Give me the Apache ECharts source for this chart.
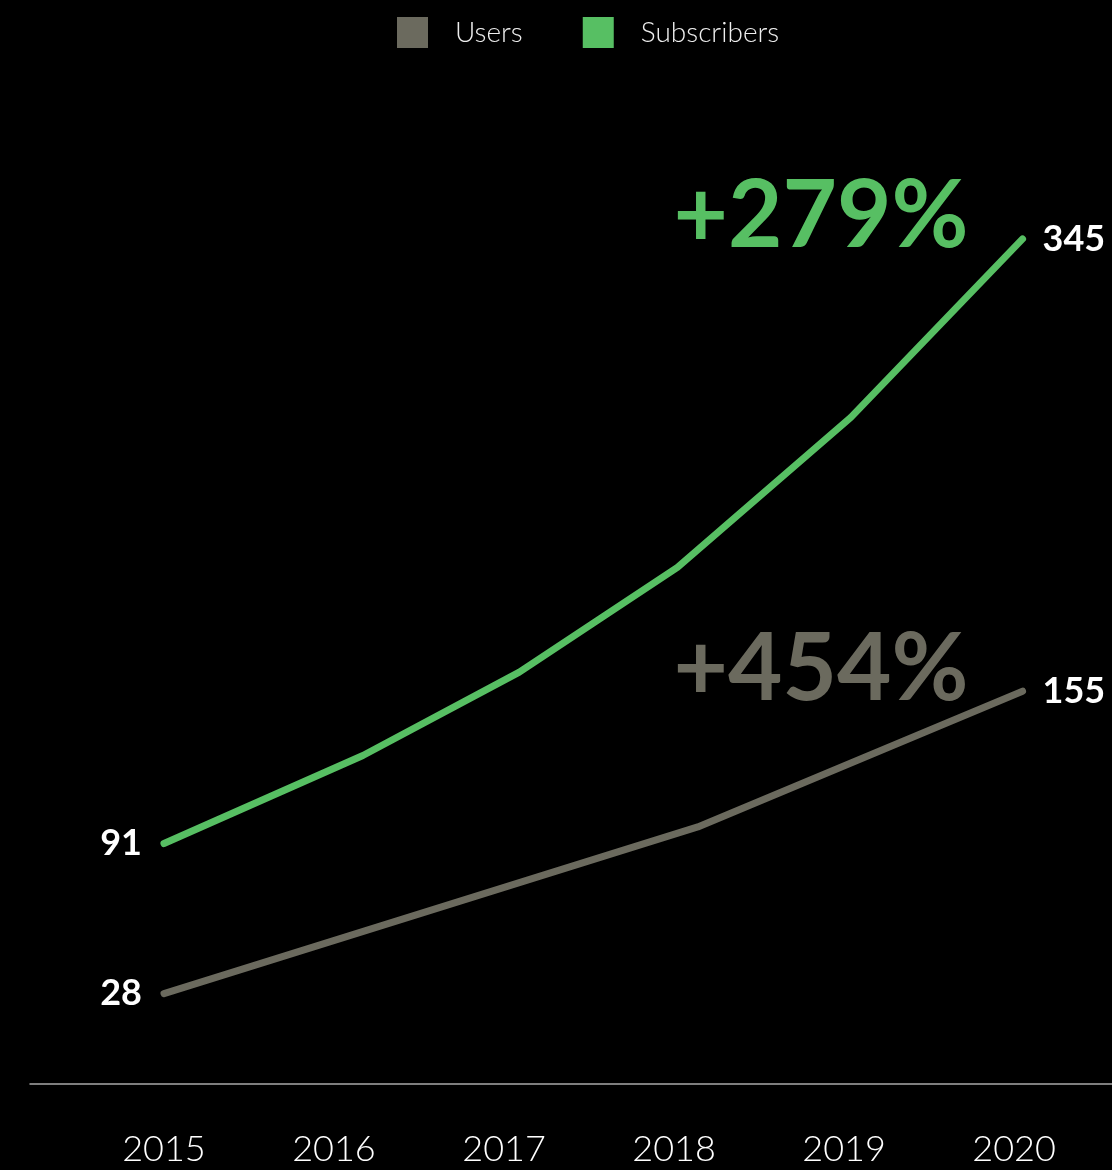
<!DOCTYPE html>
<html>
<head>
<meta charset="utf-8">
<script src="https://cdn.jsdelivr.net/npm/echarts@6/dist/echarts.min.js"></script>
<style>
html,body{margin:0;padding:0;background:#000;}
#chart{width:1112px;height:1170px;}
</style>
</head>
<body>
<div id="chart"></div>
<script>
const yearTicks = [2015, 2016, 2017, 2018, 2019, 2020];
const seriesNames = ['Users', 'Subscribers'];
const usersX = [2015, 2018.14, 2020.05];
const usersVals = [28, 98, 155];
const subsX = [2015, 2016.17, 2017.09, 2018.02, 2019.04, 2020.05];
const subsVals = [91, 128, 163, 207, 270, 345];

const GREEN = '#57bf63';
const GRAY = '#6b6a5e';
const FONT = 'Lato, "Noto Sans", sans-serif';

function pairs(xs, vs) { return xs.map((x, i) => [x, vs[i]]); }
function pct(vs) { return '+' + Math.round((vs[vs.length - 1] / vs[0] - 1) * 100) + '%'; }

function marks(xs, vs, color) {
  const n = xs.length - 1;
  const base = { color: '#fff', fontFamily: FONT, fontWeight: 700, fontSize: 36, show: true };
  return {
    symbol: 'circle', symbolSize: 0, silent: true,
    data: [
      { coord: [xs[0], vs[0]], value: vs[0], label: Object.assign({}, base, { position: 'left', distance: 22 }) },
      { coord: [xs[n], vs[n]], value: vs[n], label: Object.assign({}, base, { position: 'right', distance: 20 }) },
      { coord: [xs[n], vs[n]], value: vs[n], label: Object.assign({}, base, {
          position: 'left', distance: 54, offset: [0, -22], fontSize: 94, color: color,
          formatter: pct(vs) }) }
    ]
  };
}

const chart = echarts.init(document.getElementById('chart'));
chart.setOption({
  animation: false,
  backgroundColor: '#000',
  legend: {
    data: seriesNames,
    top: 17, left: 397, padding: 0,
    icon: 'rect', itemWidth: 31, itemHeight: 31, itemGap: 60,
    textStyle: { color: '#eee', fontFamily: FONT, fontWeight: 300, fontSize: 28, padding: [0, 0, 0, 22] }
  },
  grid: { left: 30, right: 0, top: 227, bottom: 86 },
  xAxis: {
    type: 'value',
    min: 2014.212, max: 2020.576,
    splitLine: { show: false },
    axisTick: { show: false },
    axisLine: { show: true, onZero: false, lineStyle: { color: '#a8a8a8', width: 1.5 } },
    axisLabel: {
      customValues: yearTicks,
      color: '#fff', fontFamily: FONT, fontWeight: 300, fontSize: 36, margin: 47,
      formatter: v => String(v)
    }
  },
  yAxis: { type: 'value', min: -10, max: 350, show: false, splitLine: { show: false } },
  series: [
    {
      name: seriesNames[0], type: 'line', color: GRAY,
      data: pairs(usersX, usersVals), showSymbol: false, symbol: 'none',
      lineStyle: { width: 7, color: GRAY, cap: 'round', join: 'round' },
      markPoint: marks(usersX, usersVals, GRAY)
    },
    {
      name: seriesNames[1], type: 'line', color: GREEN,
      data: pairs(subsX, subsVals), showSymbol: false, symbol: 'none',
      lineStyle: { width: 7, color: GREEN, cap: 'round', join: 'round' },
      markPoint: marks(subsX, subsVals, GREEN)
    }
  ]
});
</script>
</body>
</html>
